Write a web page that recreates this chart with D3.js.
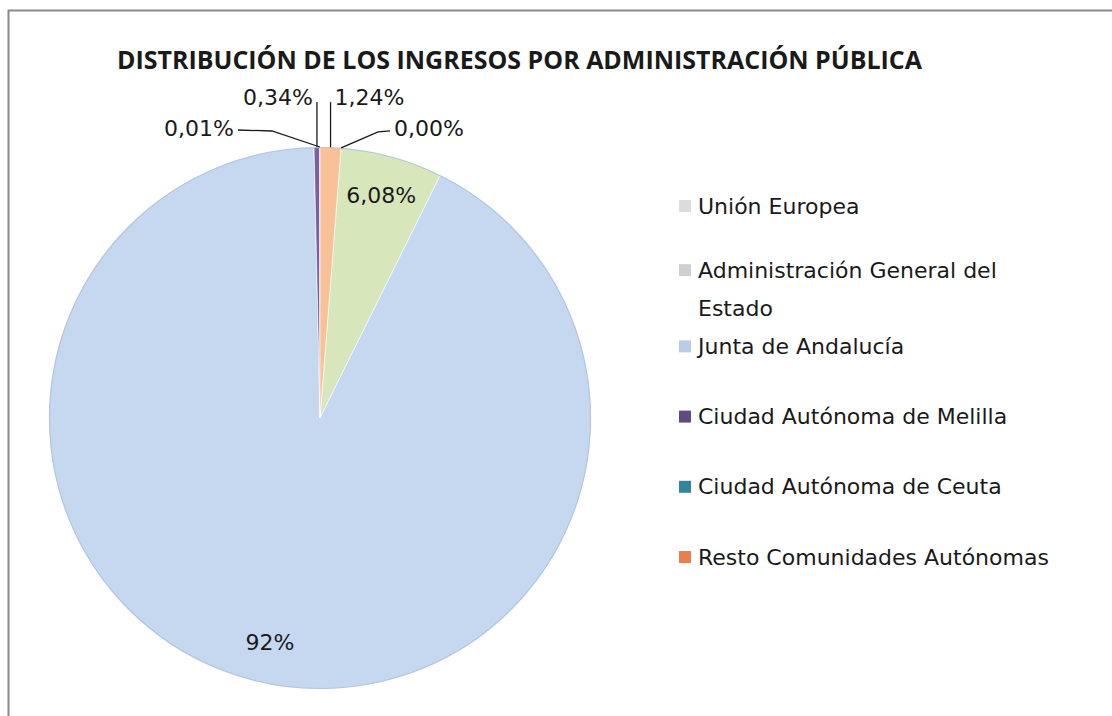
<!DOCTYPE html>
<html>
<head>
<meta charset="utf-8">
<script src="https://cdn.jsdelivr.net/npm/d3@7"></script>
<style>
  body { margin: 0; background: #fff; }
  svg { display: block; }
</style>
</head>
<body>
<svg id="chart" width="1112" height="716"></svg>
<script>
// ---- data ----
const categories = ["Unión Europea", "Administración General del Estado", "Junta de Andalucía",
  "Ciudad Autónoma de Melilla", "Ciudad Autónoma de Ceuta", "Resto Comunidades Autónomas"];
const legendLines = [["Unión Europea"], ["Administración General del", "Estado"], ["Junta de Andalucía"],
  ["Ciudad Autónoma de Melilla"], ["Ciudad Autónoma de Ceuta"], ["Resto Comunidades Autónomas"]];
const values = [0.00, 6.08, 92.33, 0.34, 0.01, 1.24];
const valueLabels = ["0,00%", "6,08%", "92%", "0,34%", "0,01%", "1,24%"];
const sliceColors = ["#d9d9d9", "#d8e6bb", "#c5d8ef", "#7b5fa3", "#4bacc6", "#f9c197"];
const legendColors = ["#dcdcdc", "#cfcfcf", "#b9cde6", "#5f4b7f", "#31859c", "#e7804c"];

// label layout for the tiny slices (offsets from the slice edge point)
const outsideLabels = {
  0: {path: [[37, -16], [49, -17]], anchor: "start", tx: 53, ty: -19},
  3: {path: [[0, -45]], anchor: "end", tx: -4, ty: -50},
  4: {path: [[-48, -16], [-82, -17]], anchor: "end", tx: -86, ty: -19},
  5: {path: [[0, -45]], anchor: "start", tx: 4, ty: -50}
};

(() => {
const svg = d3.select("#chart");
const W = 1112, H = 716;
const cx = 320, cy = 418, r = 271;
const font = "'DejaVu Sans', sans-serif";
const fsize = "22px";

// chart frame
svg.append("rect").attr("x", 8.5).attr("y", 10.5).attr("width", W + 10).attr("height", H + 10)
  .attr("fill", "#fff").attr("stroke", "#8a8a8a").attr("stroke-width", 2);

// title
svg.append("text")
  .attr("x", 117).attr("y", 69)
  .attr("textLength", 805).attr("lengthAdjust", "spacingAndGlyphs")
  .style("font-family", "'Open Sans', sans-serif").style("font-weight", "bold")
  .style("font-size", "25px").attr("fill", "#1a1a1a")
  .text("DISTRIBUCIÓN DE LOS INGRESOS POR ADMINISTRACIÓN PÚBLICA");

// pie
const total = d3.sum(values);
const offset = 2 * Math.PI * values[5] / total;
const pie = d3.pie().sort(null).value(d => d).startAngle(offset).endAngle(offset + 2 * Math.PI);
const arcs = pie(values);
const arc = d3.arc().innerRadius(0).outerRadius(r);
const labelArc = d3.arc().innerRadius(r * 0.85).outerRadius(r * 0.85);

const g = svg.append("g").attr("transform", `translate(${cx},${cy})`);
g.selectAll("path.slice")
  .data(arcs)
  .enter()
  .append("path")
  .attr("class", "slice")
  .attr("d", arc)
  .attr("fill", (d, i) => sliceColors[i])
  .attr("stroke", "#fff").attr("stroke-width", 0.6);

// soft rim like the original
g.append("circle").attr("r", r - 0.5).attr("fill", "none")
  .attr("stroke", "#b3c6de").attr("stroke-width", 1.2);

// inside labels
arcs.forEach((d, i) => {
  if (outsideLabels[i]) return;
  const c = labelArc.centroid(d);
  g.append("text")
    .attr("x", c[0]).attr("y", c[1])
    .attr("text-anchor", "middle").attr("dominant-baseline", "central")
    .style("font-family", font).style("font-size", fsize).attr("fill", "#1a1a1a")
    .text(valueLabels[i]);
});

// outside labels with leader lines
arcs.forEach((d, i) => {
  const L = outsideLabels[i];
  if (!L) return;
  const mid = (d.startAngle + d.endAngle) / 2;
  const px = Math.sin(mid) * r, py = -Math.cos(mid) * r;
  const pts = [[px, py]].concat(L.path.map(p => [px + p[0], py + p[1]]));
  g.append("path")
    .attr("d", d3.line()(pts))
    .attr("fill", "none").attr("stroke", "#1a1a1a").attr("stroke-width", 1.3);
  g.append("text")
    .attr("x", px + L.tx).attr("y", py + L.ty)
    .attr("text-anchor", L.anchor).attr("dominant-baseline", "central")
    .style("font-family", font).style("font-size", fsize).attr("fill", "#1a1a1a")
    .text(valueLabels[i]);
});

// legend
const legendY = d3.scalePoint().domain(d3.range(categories.length)).range([206, 557]);
const lg = svg.append("g");
categories.forEach((c, i) => {
  const n = legendLines[i].length;
  const y = legendY(i) - (n - 1) * 6;
  lg.append("rect").attr("x", 679).attr("y", y - 6).attr("width", 12).attr("height", 12)
    .attr("fill", legendColors[i]);
  legendLines[i].forEach((line, k) => {
    lg.append("text")
      .attr("x", 698).attr("y", y + k * 38)
      .attr("dominant-baseline", "central")
      .style("font-family", font).style("font-size", fsize).attr("fill", "#1a1a1a")
      .text(line);
  });
});
})();
</script>
</body>
</html>
